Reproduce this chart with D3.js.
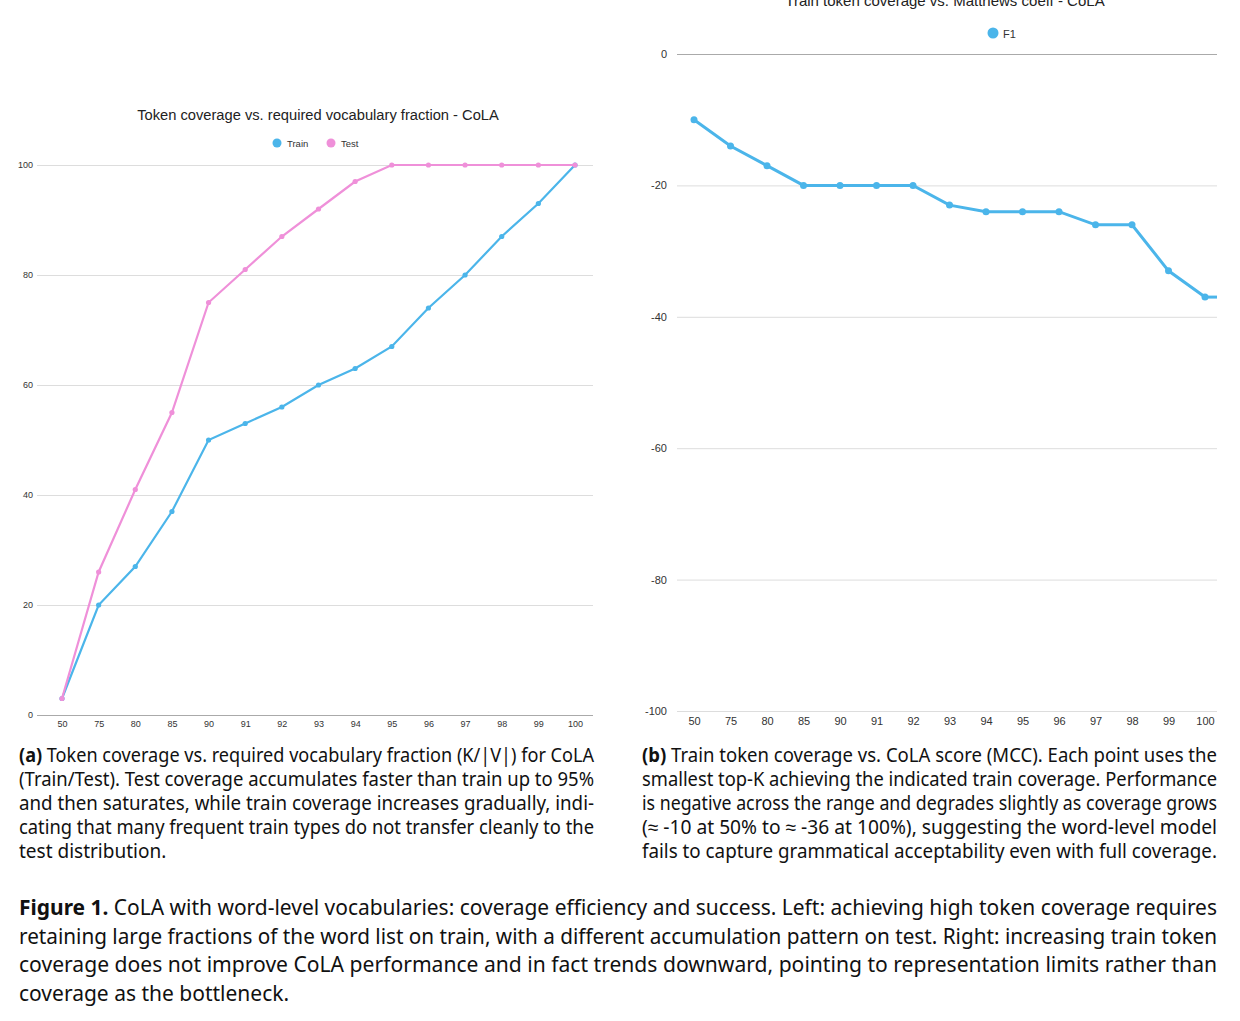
<!DOCTYPE html>
<html>
<head>
<meta charset="utf-8">
<script src="https://cdn.jsdelivr.net/npm/d3@7"></script>
<style>
  body { margin: 0; background: #fff; }
  svg { display: block; }
  .tick text { font-family: "Liberation Sans", Arial, sans-serif; fill: #333; }
  .cap { font-family: "Noto Sans", sans-serif; fill: #111; }
</style>
</head>
<body>
<svg id="fig" width="1240" height="1021"></svg>
<script>
// chart data
var coverage = ["50", "75", "80", "85", "90", "91", "92", "93", "94", "95", "96", "97", "98", "99", "100"];
var trainFrac = [3, 20, 27, 37, 50, 53, 56, 60, 63, 67, 74, 80, 87, 93, 100];
var testFrac = [3, 26, 41, 55, 75, 81, 87, 92, 97, 100, 100, 100, 100, 100, 100];
var mccF1 = [-10, -14, -17, -20, -20, -20, -20, -23, -24, -24, -24, -26, -26, -33, -37];
var leftTicks = [0, 20, 40, 60, 80, 100];
var rightTicks = [0, -20, -40, -60, -80, -100];

var blue = "#4bb5ea", pink = "#ef90d9";
var svg = d3.select("#fig");
var plain = function(d) { return String(d); };

// ---------- left chart ----------
var gL = svg.append("g");
var xL = d3.scalePoint().domain(coverage).range([62, 575]);
var yL = d3.scaleLinear().domain([0, 100]).range([715, 165]);

gL.append("g")
    .attr("transform", "translate(37,0)")
    .call(d3.axisLeft(yL).tickValues(leftTicks).tickFormat(plain).tickSize(-556).tickPadding(4))
    .call(function(g) {
        g.select(".domain").remove();
        g.selectAll(".tick line").attr("stroke", function(d) { return d === 0 ? "#aaa" : "#ddd"; });
        g.selectAll(".tick text").style("font-size", "9px");
    });

gL.append("g")
    .attr("transform", "translate(0,715)")
    .call(d3.axisBottom(xL).tickSize(0).tickPadding(6))
    .call(function(g) {
        g.select(".domain").remove();
        g.selectAll(".tick text").style("font-size", "9px");
    });

var lineL = d3.line().x(function(d, i) { return xL(coverage[i]); }).y(function(d) { return yL(d); });

[[trainFrac, blue], [testFrac, pink]].forEach(function(s) {
    gL.append("path").datum(s[0])
        .attr("d", lineL).attr("fill", "none")
        .attr("stroke", s[1]).attr("stroke-width", 2.2);
    gL.selectAll(null).data(s[0]).enter().append("circle")
        .attr("cx", function(d, i) { return xL(coverage[i]); })
        .attr("cy", function(d) { return yL(d); })
        .attr("r", 2.6).attr("fill", s[1]);
});

gL.append("text")
    .attr("x", 318).attr("y", 120)
    .attr("text-anchor", "middle")
    .style("font-family", "Liberation Sans, Arial, sans-serif")
    .style("font-size", "14.7px").style("fill", "#222")
    .text("Token coverage vs. required vocabulary fraction - CoLA");

var legL = [["Train", blue, 277], ["Test", pink, 331]];
legL.forEach(function(l) {
    gL.append("circle").attr("cx", l[2]).attr("cy", 143).attr("r", 4.5).attr("fill", l[1]);
    gL.append("text").attr("x", l[2] + 10).attr("y", 146.5)
        .style("font-family", "Liberation Sans, Arial, sans-serif")
        .style("font-size", "9.5px").style("fill", "#333").text(l[0]);
});

// ---------- right chart ----------
var gR = svg.append("g");
var xR = d3.scalePoint().domain(coverage).range([694, 1205]);
var yR = d3.scaleLinear().domain([-100, 0]).range([711, 54]);

gR.append("g")
    .attr("transform", "translate(677,0)")
    .call(d3.axisLeft(yR).tickValues(rightTicks).tickFormat(plain).tickSize(-540).tickPadding(10))
    .call(function(g) {
        g.select(".domain").remove();
        g.selectAll(".tick line").attr("stroke", function(d) { return d === 0 ? "#aaa" : "#ddd"; });
        g.selectAll(".tick text").style("font-size", "11px");
    });

gR.append("g")
    .attr("transform", "translate(0,711)")
    .call(d3.axisBottom(xR).tickSize(0).tickPadding(6))
    .call(function(g) {
        g.select(".domain").remove();
        g.selectAll(".tick text").style("font-size", "11px");
    });

var lineR = d3.line().x(function(d, i) { return xR(coverage[i]); }).y(function(d) { return yR(d); });
gR.append("path").datum(mccF1)
    .attr("d", lineR).attr("fill", "none")
    .attr("stroke", blue).attr("stroke-width", 3);
// line runs on to the right edge of the plot
gR.append("line")
    .attr("x1", xR(coverage[coverage.length - 1])).attr("x2", 1217)
    .attr("y1", yR(mccF1[mccF1.length - 1])).attr("y2", yR(mccF1[mccF1.length - 1]))
    .attr("stroke", blue).attr("stroke-width", 3);
gR.selectAll(null).data(mccF1).enter().append("circle")
    .attr("cx", function(d, i) { return xR(coverage[i]); })
    .attr("cy", function(d) { return yR(d); })
    .attr("r", 3.5).attr("fill", blue);

gR.append("text")
    .attr("x", 945).attr("y", 6)
    .attr("text-anchor", "middle")
    .style("font-family", "Liberation Sans, Arial, sans-serif")
    .style("font-size", "15px").style("fill", "#222")
    .text("Train token coverage vs. Matthews coeff - CoLA");

gR.append("circle").attr("cx", 993).attr("cy", 33).attr("r", 5.5).attr("fill", blue);
gR.append("text").attr("x", 1003).attr("y", 37.5)
    .style("font-family", "Liberation Sans, Arial, sans-serif")
    .style("font-size", "11px").style("fill", "#333").text("F1");

// ---------- captions ----------
function caption(lines, x, y0, lh, width, size, boldLead) {
    lines.forEach(function(txt, i) {
        var t = svg.append("text").attr("class", "cap")
            .attr("x", x).attr("y", y0 + i * lh)
            .style("font-size", size + "px");
        if (i === 0 && boldLead) {
            t.append("tspan").style("font-weight", "bold").text(boldLead);
            t.append("tspan").text(txt);
        } else {
            t.text(txt);
        }
        var w = t.node().getComputedTextLength();
        if (i < lines.length - 1 || w > width) {
            t.attr("textLength", width).attr("lengthAdjust", "spacingAndGlyphs");
        }
    });
}

caption([
    " Token coverage vs. required vocabulary fraction (K/|V|) for CoLA",
    "(Train/Test). Test coverage accumulates faster than train up to 95%",
    "and then saturates, while train coverage increases gradually, indi-",
    "cating that many frequent train types do not transfer cleanly to the",
    "test distribution."
], 19, 762, 24, 575, 19, "(a)");

caption([
    " Train token coverage vs. CoLA score (MCC). Each point uses the",
    "smallest top-K achieving the indicated train coverage. Performance",
    "is negative across the range and degrades slightly as coverage grows",
    "(\u2248 -10 at 50% to \u2248 -36 at 100%), suggesting the word-level model",
    "fails to capture grammatical acceptability even with full coverage."
], 642, 762, 24, 575, 19, "(b)");

caption([
    " CoLA with word-level vocabularies: coverage efficiency and success. Left: achieving high token coverage requires",
    "retaining large fractions of the word list on train, with a different accumulation pattern on test. Right: increasing train token",
    "coverage does not improve CoLA performance and in fact trends downward, pointing to representation limits rather than",
    "coverage as the bottleneck."
], 19, 915, 28.5, 1198, 21, "Figure 1.");
</script>
</body>
</html>
